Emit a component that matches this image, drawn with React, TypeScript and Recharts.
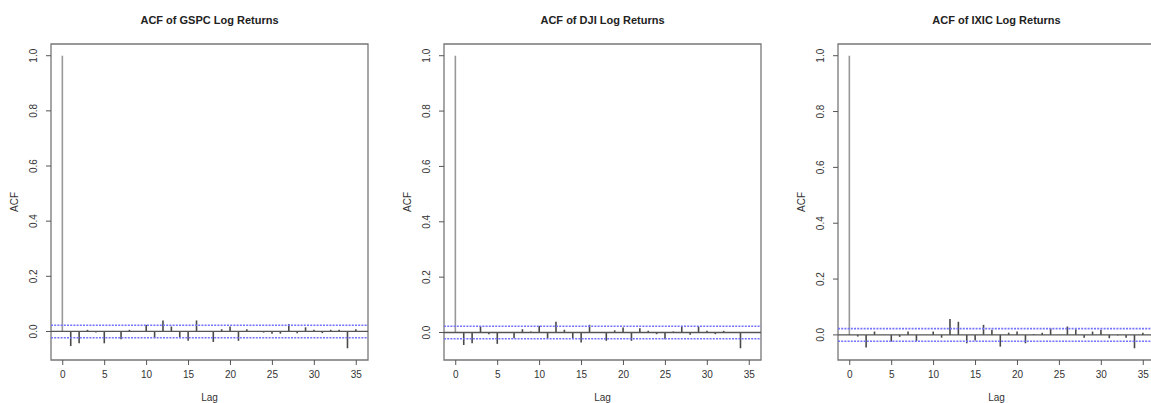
import { BarChart, Bar, XAxis, YAxis, ReferenceLine, ReferenceArea, Cell } from "recharts";

// lags 0..35 as drawn by R's acf()
const lags = [0, 1, 2, 3, 4, 5, 6, 7, 8, 9, 10, 11, 12, 13, 14, 15, 16, 17, 18, 19, 20, 21, 22, 23, 24, 25, 26, 27, 28, 29, 30, 31, 32, 33, 34, 35];

const gspcAcf = [1, -0.053, -0.043, 0.006, -0.004, -0.043, 0.002, -0.028, 0.006, -0.002, 0.024, -0.024, 0.04, 0.018, -0.024, -0.034, 0.04, 0.002, -0.038, 0.008, 0.018, -0.034, 0.008, -0.002, -0.004, -0.008, -0.008, 0.027, -0.006, 0.015, 0.006, -0.006, 0.006, 0.006, -0.061, 0.008];
const djiAcf = [1, -0.045, -0.039, 0.022, -0.006, -0.041, 0.002, -0.021, 0.012, 0.004, 0.024, -0.021, 0.039, 0.01, -0.021, -0.036, 0.028, 0.002, -0.03, 0.008, 0.018, -0.03, 0.015, 0.006, -0.006, -0.024, 0.004, 0.024, -0.008, 0.022, 0.006, -0.006, 0.006, 0.002, -0.057, 0.002];
const ixicAcf = [1, -0.006, -0.045, 0.012, 0, -0.024, -0.007, 0.012, -0.022, 0, 0.012, -0.01, 0.057, 0.047, -0.03, -0.02, 0.036, 0.018, -0.042, 0.008, 0.012, -0.03, 0.002, 0.008, 0.024, 0, 0.03, 0.02, -0.01, 0.012, 0.018, -0.012, -0.002, -0.01, -0.048, 0.008];

const titles = ["ACF of GSPC Log Returns", "ACF of DJI Log Returns", "ACF of IXIC Log Returns"];
const xTicks = [0, 5, 10, 15, 20, 25, 30, 35];
const yTicks = [0, 0.2, 0.4, 0.6, 0.8, 1.0];
const confBound = 0.0226;

const FONT = "'Liberation Sans', Arial, sans-serif";
const PANEL_W = 393;
const PANEL_H = 403;
const BOX_L = 51;
const BOX_W = 317;
const BOX_T = 44;
const BOX_B = 360;
const panelLefts = [0, 393, 787];

const YTick = (props: any) => {
  const { x, y, payload } = props;
  return (
    <text x={x} y={y} transform={`rotate(-90 ${x} ${y})`} textAnchor="middle" fontSize={10} fill="#333" fontFamily={FONT}>
      {Number(payload.value).toFixed(1)}
    </text>
  );
};

const AcfPanel = ({ title, values, left }: { title: string; values: number[]; left: number }) => {
  const data = lags.map((lag, i) => ({ lag, acf: values[i] }));
  const lo = Math.min(...values);
  const hi = Math.max(...values);
  const pad = 0.04 * (hi - lo);
  const yDomain = [lo - pad, hi + pad];
  const xDomain = [-1.4, 36.4];

  return (
    <div style={{ position: "absolute", left, top: 0, width: PANEL_W, height: PANEL_H, fontFamily: FONT }}>
      <div style={{ position: "absolute", left: BOX_L, width: BOX_W, top: 13, lineHeight: "14px", textAlign: "center", fontWeight: "bold", fontSize: 11, color: "#222" }}>
        {title}
      </div>
      <div style={{ position: "absolute", left: 15 - 20, top: 202 - 7, width: 40, height: 14, lineHeight: "14px", textAlign: "center", fontSize: 10, color: "#333", transform: "rotate(-90deg)" }}>
        ACF
      </div>
      <div style={{ position: "absolute", left: BOX_L, width: BOX_W, top: 391, lineHeight: "14px", textAlign: "center", fontSize: 10, color: "#333" }}>
        Lag
      </div>
      <BarChart
        width={PANEL_W}
        height={PANEL_H}
        data={data}
        margin={{ top: BOX_T, right: PANEL_W - BOX_L - BOX_W, bottom: 0, left: BOX_L - 30 }}
      >
        <XAxis
          dataKey="lag"
          type="number"
          domain={xDomain}
          allowDataOverflow
          ticks={xTicks}
          height={PANEL_H - BOX_B}
          axisLine={false}
          tickLine={{ stroke: "#555" }}
          tickSize={5}
          tickMargin={6}
          tick={{ fontSize: 10, fill: "#333", fontFamily: FONT }}
        />
        <YAxis
          type="number"
          domain={yDomain}
          allowDataOverflow
          ticks={yTicks}
          width={30}
          axisLine={false}
          tickLine={{ stroke: "#555" }}
          tickSize={5}
          tickMargin={9}
          tick={<YTick />}
        />
        <ReferenceArea x1={xDomain[0]} x2={xDomain[1]} y1={yDomain[0]} y2={yDomain[1]} fill="none" stroke="#777" strokeWidth={1.3} />
        <ReferenceLine y={0} stroke="#555" strokeWidth={1.3} />
        <ReferenceLine y={confBound} stroke="#7373ff" strokeWidth={1.6} strokeDasharray="2 1.2" />
        <ReferenceLine y={-confBound} stroke="#7373ff" strokeWidth={1.6} strokeDasharray="2 1.2" />
        <Bar dataKey="acf" barSize={1.6} isAnimationActive={false}>
          {data.map((d) => (
            <Cell key={d.lag} fill={d.lag === 0 ? "#999" : "#4a4a4a"} />
          ))}
        </Bar>
      </BarChart>
    </div>
  );
}

export default function App() {
  const series = [gspcAcf, djiAcf, ixicAcf];
  return (
    <div style={{ position: "absolute", left: 0, top: 0, width: 1151, height: 403, overflow: "hidden", background: "#fff" }}>
      {titles.map((t, i) => (
        <AcfPanel key={t} title={t} values={series[i]} left={panelLefts[i]} />
      ))}
    </div>
  );
}
